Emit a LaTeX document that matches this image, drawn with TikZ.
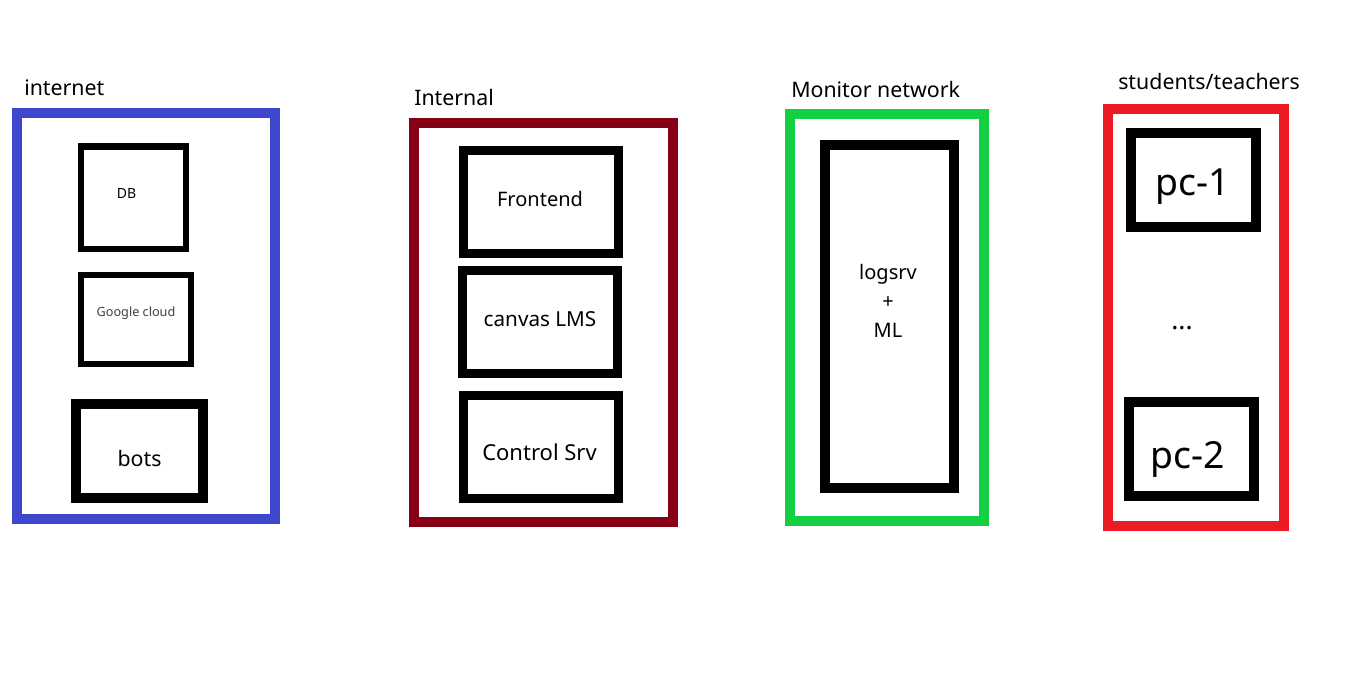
\documentclass[tikz,border=0pt]{standalone}
\usepackage{fontspec}
\setmainfont{Noto Sans}
\usepackage{tikz}

\definecolor{netblue}{RGB}{63,72,204}
\definecolor{intred}{RGB}{136,0,21}
\definecolor{mongreen}{RGB}{18,208,66}
\definecolor{userred}{RGB}{237,28,36}

\begin{document}
\begin{tikzpicture}[x=0.75pt,y=-0.75pt,
	zone/.style={draw=#1, line width=7.5pt, rectangle, inner sep=0pt},
	srv/.style={draw, line width=#1, rectangle, inner sep=0pt},
	fs/.style={font=\fontsize{#1}{#1}\selectfont},
	zonelabel/.style={anchor=base west, inner sep=0pt, fs=16}]
\useasboundingbox[fill=white] (0,0) rectangle (1350,679);

% internet
\node [zone=netblue, minimum width=193.5pt, minimum height=304.5pt] (inet) at (146,316) {};
\node [zonelabel] (inetlbl) at (24,95) {internet};
\node [srv=4.9pt, minimum width=78.75pt, minimum height=76.9pt,
	label={[fs=10.5, shift={(-7,-4)}]center:DB}] (db) at (133.5,197.75) {};
\node [srv=4.5pt, minimum width=82.5pt, minimum height=66.75pt,
	label={[fs=9.5, text=black!75, shift={(0,-6)}]center:Google cloud}] (gcloud) at (136,319.5) {};
\node [srv=7.5pt, minimum width=95.25pt, minimum height=70.5pt,
	label={[fs=16, shift={(0,7)}]center:bots}] (bots) at (139.5,451) {};

% internal
\node [zone=intred, minimum width=194.25pt, minimum height=299.25pt] (intern) at (543.5,322.5) {};
\node [zonelabel] (internlbl) at (414,105) {Internal};
\node [srv=6.75pt, minimum width=116.25pt, minimum height=77.25pt,
	label={[fs=15, shift={(-1,-3)}]center:Frontend}] (front) at (541,202) {};
\node [srv=6.75pt, minimum width=116.25pt, minimum height=77.25pt,
	label={[fs=15.5, shift={(0,-3)}]center:canvas LMS}] (canvas) at (540,322) {};
\node [srv=6.75pt, minimum width=116.25pt, minimum height=77.25pt,
	label={[fs=16.5, shift={(-1,5)}]center:Control Srv}] (ctrl) at (540.5,447) {};

% monitor
\node [zone=mongreen, minimum width=145.5pt, minimum height=305.25pt] (mon) at (887,317.5) {};
\node [zonelabel] (monlbl) at (791,97) {Monitor network};
\node [srv=7.5pt, minimum width=96.75pt, minimum height=257.25pt,
	label={[align=center, font=\fontsize{15}{22}\selectfont, shift={(-1.5,-15.5)}]center:logsrv\\+\\ML}] (logsrv) at (889.5,316.5) {};

% students/teachers
\node [zone=userred, minimum width=132pt, minimum height=312.75pt] (users) at (1196,317.5) {};
\node [zonelabel] (userslbl) at (1118,89) {students/teachers};
\node [srv=7.5pt, minimum width=93.75pt, minimum height=70.5pt,
	label={[fs=28, shift={(-1,7)}]center:pc-1}] (pc1) at (1193.5,180) {};
\node [fs=20] (dots) at (1182,328) {...};
\node [srv=7.5pt, minimum width=93.75pt, minimum height=70.5pt,
	label={[fs=28, shift={(-4,10)}]center:pc-2}] (pc2) at (1191.5,449) {};
\end{tikzpicture}
\end{document}
